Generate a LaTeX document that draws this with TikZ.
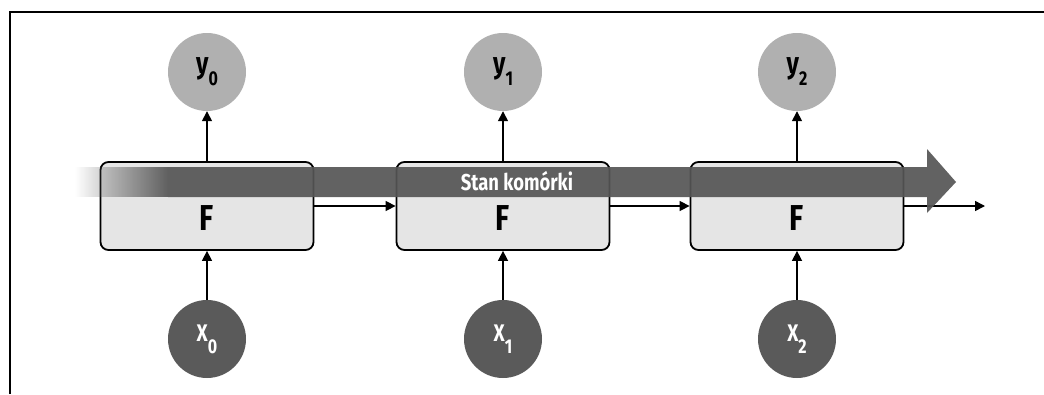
\documentclass[tikz,border=0pt]{standalone}
\usepackage{fontspec}
\setmainfont{Fira Sans}[FakeStretch=0.8]
\usetikzlibrary{arrows.meta,fadings}
\tikzfading[name=fadein, left color=transparent!100, right color=transparent!0]
\definecolor{boxfill}{HTML}{E5E5E5}
\definecolor{bandcol}{HTML}{555555}
\definecolor{ycirc}{HTML}{B0B0B0}
\definecolor{xcirc}{HTML}{5A5A5A}
\newcommand\sbs[1]{\raisebox{-12pt}{\fontsize{20}{20}\selectfont #1}}
\begin{document}
\begin{tikzpicture}[x=1pt,y=-1pt,
  fbox/.style={draw=black, line width=1.8pt, fill=boxfill, rounded corners=8pt,
    minimum width=213pt, minimum height=88pt, inner sep=0pt},
  flabel/.style={font=\bfseries\fontsize{36}{38}\selectfont, inner sep=0pt},
  ynode/.style={circle, fill=ycirc, minimum size=78pt, inner sep=0pt,
    font=\bfseries\fontsize{30}{30}\selectfont},
  xnode/.style={circle, fill=xcirc, text=white, minimum size=78pt, inner sep=0pt,
    font=\bfseries\fontsize{24}{30}\selectfont},
  arr/.style={line width=1.5pt, -{Triangle[length=10pt,width=10pt]}}]
\useasboundingbox (0,0) rectangle (1044,394);
\draw[line width=2pt] (10,394) -- (10,12) -- (1044,12);
% boxes
\node[fbox] (f0) at (207,206) {};
\node[fbox] (f1) at (503,206) {};
\node[fbox] (f2) at (797,206) {};
% circles
\node[ynode] (y0) at (207,72) {y\sbs{0}};
\node[ynode] (y1) at (503,72) {y\sbs{1}};
\node[ynode] (y2) at (797,72) {y\sbs{2}};
\node[xnode] (x0) at (207,339) {X\sbs{0}};
\node[xnode] (x1) at (503,339) {X\sbs{1}};
\node[xnode] (x2) at (797,339) {X\sbs{2}};
% connectors
\coordinate (out) at (985,206);
\draw[arr] (f0) -- (y0);
\draw[arr] (f1) -- (y1);
\draw[arr] (f2) -- (y2);
\draw[arr] (x0) -- (f0);
\draw[arr] (x1) -- (f1);
\draw[arr] (x2) -- (f2);
\draw[arr] (f0.east) -- (f1.west);
\draw[arr] (f1.east) -- (f2.west);
\draw[arr] (f2.east) -- (out);
% cell state band
\fill[bandcol, opacity=0.92, path fading=fadein] (75,167) rectangle (168,197);
\fill[bandcol, opacity=0.92] (168,167) -- (927,167) -- (927,149) -- (956,182)
  -- (927,213) -- (927,197) -- (168,197) -- cycle;
\node[font=\bfseries\fontsize{23}{25}\selectfont, text=white, inner sep=0pt] (state) at (517,181) {Stan komórki};
% F labels
\node[flabel] (fl0) at (207,218) {F};
\node[flabel] (fl1) at (503,218) {F};
\node[flabel] (fl2) at (797,218) {F};
\end{tikzpicture}
\end{document}
